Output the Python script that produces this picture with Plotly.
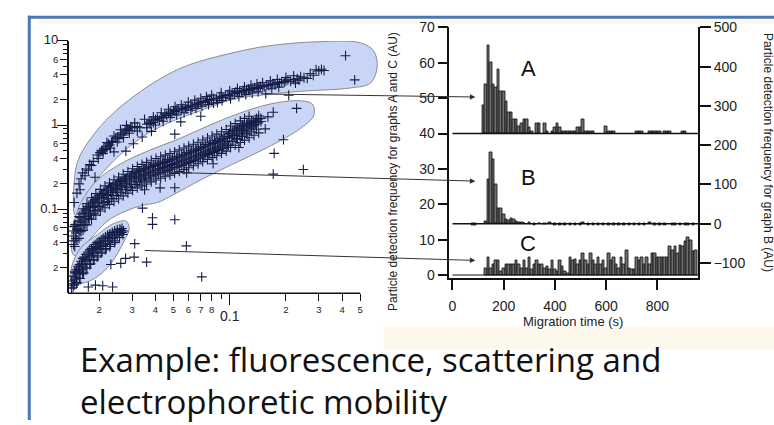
import math
import plotly.graph_objects as go

W, H = 774, 425
def px(x): return x / W
def py(y): return 1 - y / H

# ---------------- scatter data (left panel, log-log) ----------------
upper_pts = [(0.0147,0.12),(0.0152,0.155),(0.0156,0.2),(0.0158,0.17),(0.016,0.23),(0.0163,0.27),(0.0168,0.25),
(0.017,0.30),(0.0175,0.29),(0.0178,0.34),(0.0182,0.33),(0.0186,0.37),(0.019,0.24),(0.0195,0.44),(0.0198,0.40),
(0.0202,0.47),(0.0206,0.50),(0.0209,0.49),(0.0212,0.53),(0.0216,0.51),(0.022,0.56),(0.0224,0.60),(0.0228,0.58),
(0.0233,0.62),(0.0236,0.64),(0.024,0.48),(0.0245,0.70),(0.025,0.72),(0.0255,0.69),(0.026,0.78),(0.0265,0.81),
(0.027,0.76),(0.0275,0.85),(0.028,0.88),(0.0285,0.90),(0.029,0.86),(0.0295,0.95),(0.030,0.93),(0.031,0.94),
(0.032,0.96),(0.033,0.93),(0.0305,0.60),(0.0278,0.49),(0.0381,0.84),(0.034,0.72),(0.036,1.02),(0.037,1.08),
(0.0375,1.04),(0.038,1.12),(0.039,1.07),(0.040,1.16),(0.041,1.20),(0.042,1.14),(0.043,1.25),(0.044,1.22),
(0.045,1.35),(0.046,1.30),(0.047,1.38),(0.048,1.42),(0.049,1.36),(0.050,1.48),(0.051,1.45),(0.052,1.50),
(0.0508,0.78),(0.0547,1.09),(0.053,1.55),(0.055,1.52),(0.056,1.58),(0.058,1.62),(0.059,1.55),(0.060,1.68),
(0.062,1.72),(0.063,1.65),(0.065,1.78),(0.067,1.75),(0.068,1.82),(0.070,1.85),(0.070,1.27),(0.072,1.90),
(0.074,1.86),(0.076,1.95),(0.078,2.02),(0.080,1.98),(0.082,2.08),(0.085,2.05),(0.086,1.85),(0.088,2.15),
(0.090,2.20),(0.092,2.12),(0.095,2.25),(0.098,2.30),(0.100,2.22),(0.103,2.40),(0.106,2.35),(0.108,2.48),
(0.110,2.42),(0.113,2.52),(0.116,2.45),(0.118,2.58),(0.120,2.55),(0.123,2.62),(0.126,2.68),(0.128,2.60),
(0.130,2.72),(0.133,2.66),(0.136,2.78),(0.140,2.80),(0.143,2.72),(0.146,2.88),(0.150,2.92),(0.153,2.84),
(0.156,2.35),(0.158,3.0),(0.162,2.95),(0.166,3.05),(0.170,3.1),(0.175,3.02),(0.180,3.2),(0.185,3.15),
(0.190,3.28),(0.196,3.22),(0.200,3.35),(0.205,3.45),(0.207,2.26),(0.212,3.3),(0.22,3.5),(0.23,3.55),
(0.235,3.42),(0.25,3.65),(0.26,3.58),(0.29,4.55),(0.30,4.4),(0.31,4.6),(0.32,4.45),(0.417,6.67),(0.467,3.44),
(0.021,0.46),(0.022,0.62),(0.023,0.53),(0.024,0.74),(0.025,0.63),(0.026,0.88),(0.027,0.71),(0.028,0.99),
(0.029,0.80),(0.031,1.06),(0.032,0.85),(0.035,1.17),(0.036,0.93),(0.039,1.25),(0.040,1.0),(0.043,1.40),
(0.044,1.11),(0.047,1.54),(0.048,1.23),(0.051,1.65),(0.052,1.32),(0.055,1.74),(0.057,1.40),(0.060,1.87),
(0.062,1.50),(0.065,1.98),(0.066,1.58),(0.070,2.08),(0.071,1.67),(0.075,2.18),(0.077,1.75),(0.080,2.27),
(0.082,1.82),(0.090,2.42),(0.091,1.95),(0.100,2.55),(0.101,2.05),(0.110,2.72),(0.112,2.18),(0.120,2.85),
(0.122,2.30),(0.130,2.97),(0.132,2.40),(0.140,3.08),(0.142,2.48),(0.150,3.2),(0.165,3.35),(0.168,2.70),
(0.180,3.48),(0.183,2.82),(0.200,3.68),(0.22,3.85),(0.225,3.15),(0.24,3.75),(0.27,4.1),(0.28,3.9)]

middle_pts = [(0.0146,0.042),(0.0146,0.055),(0.0146,0.048),(0.0147,0.062),(0.0146,0.038),
(0.0150,0.052),(0.0150,0.066),(0.0150,0.045),(0.0154,0.058),(0.0154,0.072),
(0.0158,0.064),(0.0158,0.080),(0.0158,0.055),(0.0162,0.070),(0.0162,0.088),
(0.0166,0.076),(0.0166,0.095),(0.0166,0.065),(0.0170,0.082),(0.0170,0.100),
(0.0175,0.090),(0.0175,0.108),(0.0175,0.078),(0.0180,0.096),(0.0180,0.115),(0.0180,0.085),
(0.0185,0.105),(0.0185,0.125),(0.0190,0.110),(0.0190,0.130),(0.0190,0.095),
(0.0195,0.118),(0.0195,0.138),(0.0200,0.125),(0.0200,0.145),(0.0200,0.108),
(0.0206,0.132),(0.0206,0.152),(0.0212,0.138),(0.0212,0.160),(0.0212,0.120),
(0.0218,0.145),(0.0218,0.168),(0.0224,0.150),(0.0224,0.175),(0.0224,0.132),
(0.0230,0.158),(0.0230,0.182),(0.0237,0.165),(0.0237,0.190),(0.0237,0.145),
(0.0244,0.172),(0.0244,0.198),(0.0251,0.178),(0.0251,0.205),(0.0251,0.160),
(0.0258,0.185),(0.0258,0.212),(0.0265,0.192),(0.0265,0.220),(0.0265,0.170),
(0.0273,0.200),(0.0273,0.228),(0.0281,0.205),(0.0281,0.235),(0.0281,0.182),
(0.0290,0.215),(0.0290,0.245),(0.0298,0.222),(0.0298,0.255),(0.0298,0.195),
(0.0307,0.230),(0.0307,0.262),(0.0316,0.236),(0.0316,0.270),(0.0316,0.210),
(0.0325,0.242),(0.0325,0.278),(0.0335,0.250),(0.0335,0.285),(0.0335,0.222),
(0.0345,0.256),(0.0345,0.292),(0.0355,0.262),(0.0355,0.300),(0.0355,0.235),
(0.0366,0.270),(0.0366,0.308),(0.0377,0.276),(0.0377,0.316),(0.0377,0.248),
(0.0388,0.284),(0.0388,0.322),(0.0400,0.290),(0.0400,0.330),(0.0400,0.260),
(0.0412,0.298),(0.0412,0.338),(0.0424,0.305),(0.0424,0.345),(0.0424,0.272),
(0.0437,0.312),(0.0437,0.352),(0.0450,0.318),(0.0450,0.360),(0.0450,0.285),
(0.0463,0.325),(0.0463,0.368),(0.0477,0.332),(0.0477,0.376),(0.0477,0.298),
(0.0491,0.340),(0.0491,0.385),(0.0506,0.348),(0.0506,0.395),(0.0506,0.312),
(0.0521,0.356),(0.0521,0.405),(0.0537,0.365),(0.0537,0.415),(0.0537,0.325),
(0.0553,0.375),(0.0553,0.425),(0.0570,0.385),(0.0570,0.438),(0.0570,0.342),
(0.0587,0.395),(0.0587,0.450),(0.0605,0.405),(0.0605,0.462),(0.0605,0.360),
(0.0623,0.415),(0.0623,0.475),(0.0641,0.425),(0.0641,0.488),(0.0641,0.378),
(0.0661,0.438),(0.0661,0.500),(0.0680,0.450),(0.0680,0.515),(0.0680,0.398),
(0.0701,0.462),(0.0701,0.530),(0.0722,0.475),(0.0722,0.545),(0.0722,0.420),
(0.0743,0.488),(0.0743,0.560),(0.0766,0.502),(0.0766,0.575),(0.0766,0.445),
(0.0789,0.515),(0.0789,0.590),(0.0812,0.530),(0.0812,0.605),(0.0812,0.470),
(0.0837,0.545),(0.0837,0.622),(0.0862,0.560),(0.0862,0.640),(0.0862,0.500),
(0.0888,0.578),(0.0888,0.660),(0.0914,0.595),(0.0914,0.680),(0.0914,0.530),
(0.0942,0.612),(0.0942,0.700),(0.0970,0.640),(0.0970,0.730),(0.0970,0.570),
(0.100,0.700),(0.100,0.800),(0.103,0.720),(0.103,0.830),(0.103,0.640),
(0.106,0.750),(0.106,0.860),(0.109,0.780),(0.109,0.890),(0.109,0.690),
(0.113,0.800),(0.113,0.920),(0.116,0.830),(0.116,0.950),(0.116,0.740),
(0.119,0.860),(0.119,0.980),(0.123,0.890),(0.123,1.010),(0.123,0.800),
(0.127,0.920),(0.127,1.040),(0.130,0.950),(0.130,1.070),(0.134,0.980),(0.134,1.100),
(0.138,1.020),(0.138,1.140),(0.142,1.060),(0.142,1.170),(0.147,1.100),(0.147,1.200),
(0.0424,0.179),(0.0508,0.18),(0.0815,0.347),(0.112,0.54),(0.0588,0.27),(0.035,0.17),
(0.155,0.90),(0.160,1.25),(0.171,1.42),(0.228,1.58),(0.173,0.46),(0.194,0.67),
(0.0148,0.036),(0.0148,0.065),(0.0152,0.043),(0.0152,0.058),(0.0156,0.045),(0.0156,0.082),
(0.0160,0.054),(0.0160,0.072),(0.0164,0.056),(0.0164,0.101),(0.0168,0.066),(0.0168,0.090),
(0.0172,0.065),(0.0172,0.117),(0.0177,0.077),(0.0177,0.104),(0.0182,0.076),(0.0182,0.137),
(0.0187,0.089),(0.0187,0.121),(0.0192,0.085),(0.0192,0.153),(0.0197,0.100),(0.0197,0.136),
(0.0203,0.095),(0.0203,0.172),(0.0209,0.112),(0.0209,0.152),(0.0215,0.104),(0.0215,0.189),
(0.0221,0.123),(0.0221,0.167),(0.0227,0.114),(0.0227,0.205),(0.0233,0.134),(0.0233,0.182),
(0.0240,0.124),(0.0240,0.224),(0.0247,0.146),(0.0247,0.198),(0.0254,0.133),(0.0254,0.241),
(0.0261,0.157),(0.0261,0.213),(0.0269,0.144),(0.0269,0.260),(0.0277,0.170),(0.0277,0.230),
(0.0285,0.155),(0.0285,0.280),(0.0293,0.183),(0.0293,0.247),(0.0302,0.167),(0.0302,0.302),
(0.0311,0.197),(0.0311,0.267),(0.0320,0.179),(0.0320,0.322),(0.0330,0.211),(0.0330,0.285),
(0.0339,0.189),(0.0339,0.341),(0.0349,0.223),(0.0349,0.301),(0.0359,0.199),(0.0359,0.360),
(0.0370,0.235),(0.0370,0.319),(0.0380,0.211),(0.0380,0.381),(0.0392,0.249),(0.0392,0.337),
(0.0403,0.222),(0.0403,0.400),(0.0415,0.262),(0.0415,0.354),(0.0427,0.233),(0.0427,0.420),
(0.0440,0.275),(0.0440,0.371),(0.0452,0.243),(0.0452,0.439),(0.0466,0.287),(0.0466,0.389),
(0.0479,0.254),(0.0479,0.459),(0.0493,0.300),(0.0493,0.406),(0.0507,0.266),(0.0507,0.481),
(0.0522,0.315),(0.0522,0.426),(0.0537,0.281),(0.0537,0.507),(0.0553,0.332),(0.0553,0.449),
(0.0569,0.295),(0.0569,0.533),(0.0586,0.349),(0.0586,0.472),(0.0603,0.311),(0.0603,0.562),
(0.0621,0.367),(0.0621,0.497),(0.0639,0.328),(0.0639,0.592),(0.0658,0.387),(0.0658,0.523),
(0.0677,0.346),(0.0677,0.624),(0.0697,0.408),(0.0697,0.552),(0.0717,0.367),(0.0717,0.663),
(0.0738,0.434),(0.0738,0.587),(0.0760,0.389),(0.0760,0.702),(0.0782,0.459),(0.0782,0.621),
(0.0805,0.410),(0.0805,0.741),(0.0829,0.485),(0.0829,0.656),(0.0853,0.432),(0.0853,0.780),
(0.0878,0.510),(0.0878,0.690),(0.0904,0.461),(0.0904,0.832),(0.0931,0.544),(0.0931,0.736),
(0.0958,0.490),(0.0958,0.884),(0.0984,0.578),(0.0984,0.782),(0.101,0.540),(0.101,0.975),
(0.104,0.638),(0.104,0.863),(0.107,0.576),(0.107,1.040),(0.110,0.680),(0.110,0.920),
(0.114,0.620),(0.114,1.120),(0.117,0.730),(0.117,0.990),(0.120,0.662),(0.120,1.200),
(0.124,0.782),(0.124,1.058),(0.127,0.706),(0.127,1.270),(0.131,0.833),(0.131,1.127),
(0.135,0.756),(0.135,1.000),(0.139,0.893),(0.139,1.200),(0.143,0.806),(0.143,1.290)]

lower_pts = [(0.0142,0.0115),(0.0142,0.014),(0.0145,0.013),(0.0145,0.016),(0.0145,0.0118),
(0.0148,0.0145),(0.0148,0.018),(0.0151,0.0155),(0.0151,0.019),(0.0151,0.013),
(0.0154,0.017),(0.0154,0.021),(0.0157,0.018),(0.0157,0.022),(0.0157,0.015),
(0.0160,0.019),(0.0160,0.024),(0.0163,0.021),(0.0163,0.026),(0.0163,0.017),
(0.0166,0.022),(0.0166,0.027),(0.0170,0.024),(0.0170,0.029),(0.0170,0.020),
(0.0174,0.025),(0.0174,0.031),(0.0178,0.027),(0.0178,0.033),(0.0178,0.022),
(0.0182,0.028),(0.0182,0.034),(0.0186,0.030),(0.0186,0.036),(0.0186,0.025),
(0.0190,0.031),(0.0190,0.038),(0.0195,0.033),(0.0195,0.040),(0.0195,0.027),
(0.0200,0.034),(0.0200,0.041),(0.0205,0.036),(0.0205,0.043),(0.0205,0.030),
(0.0210,0.037),(0.0210,0.045),(0.0216,0.039),(0.0216,0.047),(0.0216,0.033),
(0.0222,0.041),(0.0222,0.049),(0.0228,0.043),(0.0228,0.051),(0.0228,0.036),
(0.0235,0.045),(0.0235,0.053),(0.0242,0.047),(0.0242,0.055),(0.0242,0.040),
(0.0250,0.049),(0.0250,0.057),(0.0258,0.051),(0.0258,0.058),(0.0265,0.053),
(0.0265,0.059),(0.0270,0.055),
(0.0147,0.0125),(0.0149,0.0175),(0.0152,0.0135),(0.0155,0.020),(0.0158,0.015),(0.0161,0.0225),
(0.0165,0.0175),(0.0168,0.0255),(0.0172,0.020),(0.0176,0.029),(0.0180,0.0225),(0.0184,0.032),
(0.0188,0.025),(0.0192,0.035),(0.0197,0.028),(0.0202,0.039),(0.0207,0.031),(0.0212,0.042),
(0.0218,0.034),(0.0224,0.046),(0.0230,0.038),(0.0236,0.050),(0.0243,0.042),(0.0250,0.054),
(0.0257,0.046),(0.0262,0.056),(0.0268,0.050)]

outlier_pts = [(0.0341,0.103),(0.0386,0.079),(0.0386,0.066),(0.0508,0.075),(0.0586,0.0366),
(0.0708,0.0157),(0.031,0.039),(0.0308,0.0269),(0.0359,0.0235),(0.0277,0.026),(0.0261,0.0227),
(0.0231,0.022),(0.0175,0.0119),(0.0191,0.0125),(0.0209,0.0123),(0.0236,0.0119),
(0.171,0.261),(0.248,0.296)]

# hand-drawn population outlines (data units)
blob_upper = [(0.01483,0.0845),(0.0152,0.347),(0.0181,0.70),(0.0231,1.30),(0.0308,2.21),(0.0428,3.59),
(0.0594,5.11),(0.0972,6.97),(0.159,8.7),(0.294,9.75),(0.50,9.5),(0.59,7.6),(0.616,4.9),(0.567,3.15),
(0.443,2.76),(0.24,2.52),(0.159,2.31),(0.105,2.03),(0.07,1.49),(0.0465,1.05),(0.0334,0.70),
(0.024,0.378),(0.0188,0.204),(0.016,0.11),(0.01483,0.0845)]
blob_middle = [(0.01442,0.0294),(0.01442,0.0594),(0.016,0.12),(0.0196,0.223),(0.0261,0.347),
(0.0363,0.49),(0.0547,0.70),(0.0824,1.05),(0.1245,1.49),(0.18,1.85),(0.24,1.94),(0.277,1.78),
(0.282,1.30),(0.24,0.916),(0.159,0.54),(0.105,0.347),(0.07,0.223),(0.0503,0.15),(0.041,0.12),
(0.0334,0.11),(0.0231,0.0774),(0.0188,0.0499),(0.016,0.032),(0.015,0.028),(0.01442,0.0294)]
blob_lower = [(0.0141,0.0145),(0.0144,0.0225),(0.016,0.035),(0.0196,0.05),(0.024,0.0678),
(0.0278,0.0722),(0.029,0.0594),(0.0272,0.0418),(0.0231,0.0225),(0.0196,0.0158),(0.0166,0.0133),
(0.0147,0.013),(0.0141,0.0145)]

sc_xticks = [0.02,0.03,0.04,0.05,0.06,0.07,0.08,0.1,0.2,0.3,0.4,0.5]
sc_xtext = ["2","3","4","5","6","7","8","","2","3","4","5"]
sc_xdecade_label = "0.1"
sc_yticks = [0.02,0.04,0.06,0.1,0.2,0.4,0.6,1,2,4,6,10]
sc_ytext = ["2","4","6","0.1","2","4","6","1","2","4","6","10"]
sc_decades_x = [0.1]
sc_decades_y = [0.1,1,10]
sc_minor_x = [0.09]
sc_minor_y = [0.03,0.05,0.07,0.08,0.09,0.3,0.5,0.7,0.8,0.9,3,5,7,8,9]

# ---------------- histogram data (right panel) ----------------
A_t = [120,130,140,150,160,170,180,190,200,210,220,230,240,250,260,270,280,290,300,310,330,340,360,370,
       390,400,410,420,430,440,450,460,470,480,490,500,510,520,530,540,550,600,610,620,630,720,730,740,
       770,780,790,800,810,830,840,850,900,910]
A_v = [48,54,65,60,54,53,58,52,52,49,46,46,44,44,42,43,44,44,41.6,40.7,42.8,42.8,43,40.7,
       40.7,41.6,43,41.6,40.7,40.5,40.5,40.5,40.5,40.5,41.6,41.6,44,40.5,40.5,40.5,40.5,42,40.5,40.5,40.5,40.5,40.5,40.5,
       40.5,40.5,40.5,40.5,40.5,40.5,40.5,40.5,40.5,40.5]
A_base = 40

B_t = [80,90,130,140,150,160,170,180,190,200,210,220,230,240,250,260,270,280,300,320,340,360,380,400,420,
       440,460,480,500,510,530,550,570,590,610,630,650,670,690,710,730,750,770,790,810,830,860,870,890,910,920,940]
B_v = [-3,-3,5,113,183,165,100,39,38,25,11,9,13,11,6,3,4,2,3,-3,2,-2,3,-4,-3,
       -4,-4,-3,-4,3,-4,-4,-3,-4,-3,-4,-3,-4,-4,-3,-4,-4,4,-4,-4,-3,-4,-4,-3,-4,-4,-3]

C_t = list(range(130, 951, 10))
C_v = [2,5,2,3,4,4,1,2,3,3, 3,3,4,3,2,4,2,5,1.5,3, 4,3,3,2,2.5,1.5,4,1.5,1,4,
       2.5,1,0.5,5,4,4.5,3,4,6,4, 3,6,4,3,5,3,4,2,6,4, 5,3,2,5,3,7,2,1.5,1.5,5,
       4,5,3,5,3,6,6,5,5,5, 5,5,8,7,8,6,8.5,8,9.5,10.7, 9.7,6.6,7]

hist_xticks = [0,200,400,600,800]
hist_yticks_left = [0,10,20,30,40,50,60,70]
hist_yticks_right = [-100,0,100,200,300,400,500]

caption = ["Example: fluorescence, scattering and", "electrophoretic mobility"]

# ---------------- figure ----------------
NAVY = "#161e48"
BLOB_FILL = "#c8d5f6"
BLOB_LINE = "#8c8c8c"
FONT = "Liberation Sans, Arial, sans-serif"

fig = go.Figure()

for blob in (blob_upper, blob_middle, blob_lower):
    fig.add_trace(go.Scatter(x=[p[0] for p in blob], y=[p[1] for p in blob], mode="lines",
                             line=dict(color=BLOB_LINE, width=1, shape="spline", smoothing=1.0),
                             fill="toself", fillcolor=BLOB_FILL, hoverinfo="skip",
                             xaxis="x", yaxis="y", showlegend=False))

for pts in (upper_pts, middle_pts, lower_pts, outlier_pts):
    fig.add_trace(go.Scatter(x=[p[0] for p in pts], y=[p[1] for p in pts], mode="markers",
                             marker=dict(symbol="cross-thin", size=7, line=dict(width=1.1, color=NAVY)),
                             xaxis="x", yaxis="y", showlegend=False))

# dummy for overlay decade-tick axes
fig.add_trace(go.Scatter(x=[0.1], y=[1], mode="markers", marker=dict(opacity=0),
                         xaxis="x3", yaxis="y3", hoverinfo="skip", showlegend=False))

bar_style = dict(marker=dict(color="#6f6f6f", line=dict(color="#111", width=0.8)), width=10,
                 showlegend=False)
fig.add_trace(go.Bar(x=A_t, y=[v - A_base for v in A_v], base=A_base, xaxis="x2", yaxis="y2", **bar_style))
fig.add_trace(go.Bar(x=B_t, y=B_v, base=0, xaxis="x2", yaxis="y4", **bar_style))
fig.add_trace(go.Bar(x=C_t, y=C_v, base=0, xaxis="x2", yaxis="y2", **bar_style))

def big(t, s=13):
    return f'<span style="font-size:{s}px">{t}</span>'

sc_xrange = [-1.861, -0.1925]
sc_yrange = [-2, 1]
sc_xdom = [px(68), px(380)]
sc_ydom = [py(294), py(33)]

fig.update_layout(
    width=W, height=H, margin=dict(l=0, r=0, t=0, b=0),
    paper_bgcolor="white", plot_bgcolor="rgba(0,0,0,0)",
    font=dict(family=FONT, color="#111", size=10),
    barmode="overlay", bargap=0, showlegend=False,
    xaxis=dict(type="log", domain=sc_xdom, range=sc_xrange, anchor="y",
               showline=False, showgrid=False, zeroline=False,
               tickvals=sc_xticks, ticktext=sc_xtext,
               ticks="outside", ticklen=7, tickwidth=1, tickcolor="#111",
               tickfont=dict(size=9.5, color="#222"),
               minor=dict(tickvals=sc_minor_x, ticks="outside", ticklen=5, tickcolor="#111", showgrid=False)),
    yaxis=dict(type="log", domain=sc_ydom, range=sc_yrange, anchor="x",
               showline=True, linecolor="#111", linewidth=1.5, showgrid=False, zeroline=False,
               tickvals=sc_yticks, ticktext=[big(t, 13) if t in ("0.1", "1", "10") else t for t in sc_ytext],
               ticks="outside", ticklen=7, tickwidth=1, tickcolor="#111",
               tickfont=dict(size=9.5, color="#222"),
               minor=dict(tickvals=sc_minor_y, ticks="outside", ticklen=4, tickcolor="#111", showgrid=False)),
    xaxis3=dict(type="log", domain=sc_xdom, range=sc_xrange, anchor="y3", overlaying="x",
                showline=False, showgrid=False, zeroline=False, showticklabels=False,
                tickvals=sc_decades_x, ticks="outside", ticklen=11, tickwidth=1.2, tickcolor="#111"),
    yaxis3=dict(type="log", domain=sc_ydom, range=sc_yrange, anchor="x3", overlaying="y",
                showline=False, showgrid=False, zeroline=False, showticklabels=False,
                tickvals=sc_decades_y, ticks="outside", ticklen=11, tickwidth=1.2, tickcolor="#111"),
    xaxis2=dict(domain=[px(449), px(698)], range=[-12, 959], anchor="y2",
                showline=True, linecolor="#111", linewidth=1.5, showgrid=False, zeroline=False,
                tickvals=hist_xticks, ticks="outside", ticklen=10, tickwidth=1.5, tickcolor="#111",
                ticklabelstandoff=5, tickfont=dict(size=14, color="#222")),
    yaxis2=dict(domain=[py(278), py(19)], range=[-0.8, 70], anchor="x2",
                showline=True, linecolor="#111", linewidth=1.5, showgrid=False, zeroline=False,
                tickvals=hist_yticks_left, ticks="outside", ticklen=10, tickwidth=1.5, tickcolor="#111",
                tickfont=dict(size=14, color="#222")),
    yaxis4=dict(domain=[py(278), py(19)], range=[-137.7, 500], anchor="x2", overlaying="y2", side="right",
                showline=True, linecolor="#111", linewidth=1.5, showgrid=False, zeroline=False,
                tickvals=hist_yticks_right, ticks="outside", ticklen=11, tickwidth=1.5, tickcolor="#111",
                tickfont=dict(size=14, color="#222")),
)

shapes = [
    dict(type="rect", xref="paper", yref="paper", x0=px(37), x1=px(774), y0=py(16), y1=py(11),
         fillcolor="#fcf8ec", line=dict(width=0), layer="below"),
    dict(type="rect", xref="paper", yref="paper", x0=px(383), x1=px(774), y0=py(352), y1=py(328),
         fillcolor="#fcf8ec", line=dict(width=0), layer="below"),
    dict(type="line", xref="paper", yref="paper", x0=px(67.3), x1=px(359.7), y0=py(294), y1=py(294),
         line=dict(color="#111", width=1.5)),
    dict(type="line", xref="x2", yref="y2", x0=0, x1=959, y0=A_base, y1=A_base, line=dict(color="#111", width=1.5)),
    dict(type="line", xref="x2", yref="y4", x0=0, x1=959, y0=0, y1=0, line=dict(color="#111", width=1.5)),
    dict(type="line", xref="x2", yref="y2", x0=0, x1=959, y0=0, y1=0, line=dict(color="#111", width=1.2)),
    dict(type="rect", xref="paper", yref="paper", x0=px(29.6), x1=px(37), y0=py(335), y1=py(10),
         fillcolor="white", line=dict(width=0), layer="above"),
    dict(type="line", xref="paper", yref="paper", x0=px(27), x1=px(774), y0=py(8.5), y1=py(8.5),
         line=dict(color="#4a78b4", width=3), layer="above"),
    dict(type="line", xref="paper", yref="paper", x0=px(28.3), x1=px(28.3), y0=py(7), y1=py(425),
         line=dict(color="#4a78b4", width=3), layer="above"),
]
fig.update_layout(shapes=shapes)

ann = []
for (tx, ty), (hx, hy) in [((263, 88), (475, 91)), ((163, 169), (475, 178)), ((143, 250), (475, 260))]:
    ann.append(dict(x=px(hx), y=py(hy), xref="paper", yref="paper", ax=tx - hx, ay=ty - hy,
                    axref="pixel", ayref="pixel", text="", showarrow=True, arrowhead=2,
                    arrowsize=1.1, arrowwidth=1, arrowcolor="#333", standoff=0))
def label(text, x, y, size, angle=0, family=FONT, xanchor="center", color="#111"):
    return dict(x=px(x), y=py(y), xref="paper", yref="paper", text=text, showarrow=False,
                textangle=angle, xanchor=xanchor, yanchor="middle",
                font=dict(family=family, size=size, color=color))
for lbl, (lx, ly) in zip(["A", "B", "C"], [(528, 62), (528, 174), (528, 242)]):
    ann.append(label(lbl, lx, ly, 22))
# decade label of the log x axis sits lower than the minor labels (log axis -> x in log10 units)
ann.append(dict(x=math.log10(sc_decades_x[0]), y=py(317), xref="x", yref="paper", text=sc_xdecade_label,
                showarrow=False, xanchor="center", yanchor="middle",
                font=dict(family=FONT, size=14, color="#222")))
ann.append(label("Particle detection frequency for graphs A and C (AU)", 393, 168, 12, -90, color="#222"))
ann.append(label("Particle detection frequency for graph B (AU)", 768, 148, 12, 90, color="#222"))
ann.append(label("Migration time (s)", 573, 323, 13, color="#222"))
ann.append(label(caption[0], 77, 362, 33, family="Open Sans", xanchor="left"))
ann.append(label(caption[1], 77, 406, 33, family="Open Sans", xanchor="left"))
fig.update_layout(annotations=ann)

fig.write_html("out.html")
